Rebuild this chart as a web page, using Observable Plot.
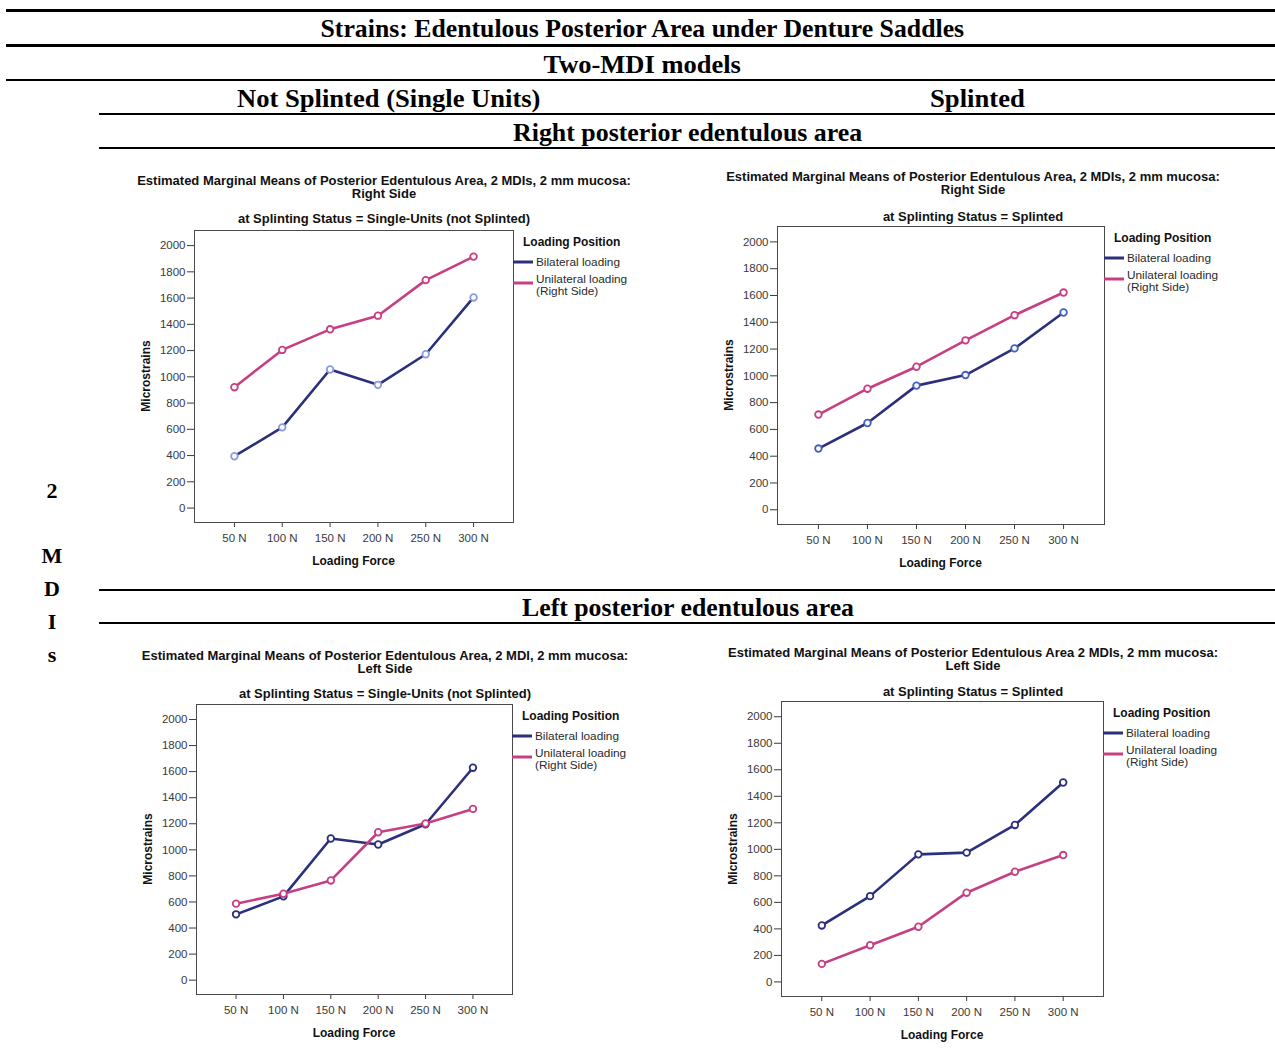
<!DOCTYPE html>
<html>
<head>
<meta charset="utf-8">
<script src="https://cdn.jsdelivr.net/npm/d3@7"></script>
<script src="https://cdn.jsdelivr.net/npm/@observablehq/plot@0.6"></script>
<style>
  html, body { margin: 0; padding: 0; background: #fff; }
  #page { position: relative; width: 1275px; height: 1057px; overflow: hidden; background: #fff; }
  .rule { position: absolute; background: #000; }
  .head { position: absolute; white-space: nowrap; line-height: 1;
          font-family: "Liberation Serif", "DejaVu Serif", serif; font-weight: bold; font-size: 25px; color: #000; }
  .side { position: absolute; transform: translate(-50%, -50%);
          font-family: "Liberation Serif", serif; font-weight: bold; font-size: 22px; color: #000; }
  .ctext { position: absolute; transform: translate(-50%, -50%); white-space: nowrap;
           font-family: "Liberation Sans", Arial, sans-serif; color: #111; }
  .ltext { position: absolute; transform: translate(0, -50%); white-space: nowrap;
           font-family: "Liberation Sans", Arial, sans-serif; color: #2a2a2a; }
  .swatch { position: absolute; height: 3px; width: 20px; transform: translate(0, -50%); }
  .plotbox { position: absolute; }
</style>
</head>
<body>
<div id="page"></div>
<script>
// ---- data ----
const forces = ["50 N", "100 N", "150 N", "200 N", "250 N", "300 N"];
const positions = ["Bilateral loading", "Unilateral loading (Right Side)"];
const yTicks = [0, 200, 400, 600, 800, 1000, 1200, 1400, 1600, 1800, 2000];

// Right posterior edentulous area
const rightSingleBilateral  = [395, 615, 1056, 939, 1172, 1605];
const rightSingleUnilateral = [921, 1205, 1362, 1466, 1737, 1916];
const rightSplintBilateral  = [457, 648, 927, 1006, 1205, 1473];
const rightSplintUnilateral = [711, 904, 1068, 1265, 1453, 1622];
// Left posterior edentulous area
const leftSingleBilateral   = [505, 643, 1087, 1041, 1196, 1630];
const leftSingleUnilateral  = [587, 663, 765, 1135, 1202, 1314];
const leftSplintBilateral   = [426, 647, 962, 975, 1184, 1504];
const leftSplintUnilateral  = [136, 277, 416, 673, 831, 957];

// ---- styling ----
const lineColors = ["#2c2f7c", "#c73f82"];

const page = document.getElementById("page");

function el(cls, css, text) {
  const d = document.createElement("div");
  d.className = cls;
  Object.assign(d.style, css);
  if (text != null) d.textContent = text;
  page.appendChild(d);
  return d;
}

// heading centred at (cx, cy), stretched horizontally to span the given width
function heading(text, cx, cy, span) {
  const d = el("head", {left: "0px", top: "0px"}, text);
  const w = d.offsetWidth, h = d.offsetHeight;
  const s = span / w;
  d.style.left = (cx - w / 2) + "px";
  d.style.top = (cy - h / 2) + "px";
  d.style.transform = `scaleX(${s})`;
  d.style.transformOrigin = "50% 50%";
}

// ---- table rules and headings ----
const rules = [
  [6, 9, 1275, 3], [6, 44, 1275, 3], [6, 79, 1275, 2],
  [99, 113, 1176, 2], [99, 147, 1176, 2], [99, 589, 1176, 2], [99, 622, 1176, 2]
];
rules.forEach(([x, y, w, h]) => el("rule", {left: x + "px", top: y + "px", width: w + "px", height: h + "px"}));

heading("Strains: Edentulous Posterior Area under Denture Saddles", 642, 28, 644);
heading("Two-MDI models", 641.5, 64, 197);
heading("Not Splinted (Single Units)", 388.5, 98, 303);
heading("Splinted", 977.5, 98, 95);
heading("Right posterior edentulous area", 687.5, 132, 349);
heading("Left posterior edentulous area", 688, 607, 332);

[["2", 491], ["M", 556], ["D", 589], ["I", 622], ["s", 655]].forEach(([t, y]) =>
  el("side", {left: "52px", top: y + "px"}, t));

// ---- panels ----
const panels = [
  {
    title: ["Estimated Marginal Means of Posterior Edentulous Area, 2 MDIs, 2 mm mucosa:", "Right Side"],
    subtitle: "at Splinting Status = Single-Units (not Splinted)",
    series: [rightSingleBilateral, rightSingleUnilateral],
    markers: ["#8a9be0", "#c73f82"],
    frame: [194, 230, 513, 522], titleX: 384, titleY: 180, subY: 218
  },
  {
    title: ["Estimated Marginal Means of Posterior Edentulous Area, 2 MDIs, 2 mm mucosa:", "Right Side"],
    subtitle: "at Splinting Status = Splinted",
    series: [rightSplintBilateral, rightSplintUnilateral],
    markers: ["#4060c4", "#c73f82"],
    frame: [777, 226, 1104, 524], titleX: 973, titleY: 176, subY: 216
  },
  {
    title: ["Estimated Marginal Means of Posterior Edentulous Area, 2 MDI, 2 mm mucosa:", "Left Side"],
    subtitle: "at Splinting Status = Single-Units (not Splinted)",
    series: [leftSingleBilateral, leftSingleUnilateral],
    markers: ["#2c2f7c", "#c73f82"],
    frame: [196, 704, 512, 994], titleX: 385, titleY: 655, subY: 693
  },
  {
    title: ["Estimated Marginal Means of Posterior Edentulous Area 2 MDIs, 2 mm mucosa:", "Left Side"],
    subtitle: "at Splinting Status = Splinted",
    series: [leftSplintBilateral, leftSplintUnilateral],
    markers: ["#2c2f7c", "#c73f82"],
    frame: [781, 701, 1103, 996], titleX: 973, titleY: 652, subY: 691
  }
];

const mL = 42, mR = 2, mT = 2, mB = 28;

panels.forEach(p => {
  const [x0, y0, x1, y1] = p.frame;
  const rows = [];
  p.series.forEach((vals, i) => vals.forEach((v, j) =>
    rows.push({force: forces[j], value: v, position: positions[i]})));

  const chart = Plot.plot({
    width: (x1 - x0) + mL + mR,
    height: (y1 - y0) + mT + mB,
    marginLeft: mL, marginRight: mR, marginTop: mT, marginBottom: mB,
    style: {fontFamily: '"Liberation Sans", Arial, sans-serif', fontSize: "11.5px", color: "#3a3a3a",
            background: "transparent", overflow: "visible"},
    x: {type: "point", domain: forces, padding: 0.835, round: false, label: null},
    y: {domain: [-110, 2115], label: null},
    color: {domain: positions, range: lineColors},
    marks: [
      Plot.axisY({ticks: yTicks, tickSize: 7, tickPadding: 2, tickFormat: d => String(d), label: null}),
      Plot.axisX({tickSize: 5, tickPadding: 6, label: null}),
      Plot.frame({stroke: "#4a4a4a", strokeWidth: 1}),
      Plot.line(rows, {x: "force", y: "value", z: "position", stroke: "position", strokeWidth: 2.6}),
      Plot.dot(rows, {x: "force", y: "value", r: 3.3, fill: "white", strokeWidth: 1.8,
                      stroke: d => p.markers[positions.indexOf(d.position)]})
    ]
  });
  const box = el("plotbox", {left: (x0 - mL) + "px", top: (y0 - mT) + "px"});
  box.appendChild(chart);

  // chart titles
  el("ctext", {left: p.titleX + "px", top: p.titleY + "px", fontSize: "13px", fontWeight: "bold"}, p.title[0]);
  el("ctext", {left: p.titleX + "px", top: (p.titleY + 13) + "px", fontSize: "13px", fontWeight: "bold"}, p.title[1]);
  el("ctext", {left: p.titleX + "px", top: p.subY + "px", fontSize: "13px", fontWeight: "bold"}, p.subtitle);

  // axis titles
  el("ctext", {left: ((x0 + x1) / 2) + "px", top: (y1 + 38.5) + "px", fontSize: "12px", fontWeight: "bold"}, "Loading Force");
  el("ctext", {left: (x0 - 48.5) + "px", top: ((y0 + y1) / 2) + "px", fontSize: "12px", fontWeight: "bold",
               transform: "translate(-50%, -50%) rotate(-90deg)"}, "Microstrains");

  // legend
  el("ltext", {left: (x1 + 10) + "px", top: (y0 + 12) + "px", fontSize: "12px", fontWeight: "bold", color: "#111"}, "Loading Position");
  el("swatch", {left: x1 + "px", top: (y0 + 32) + "px", background: lineColors[0]});
  el("swatch", {left: x1 + "px", top: (y0 + 53) + "px", background: lineColors[1]});
  el("ltext", {left: (x1 + 23) + "px", top: (y0 + 32) + "px", fontSize: "11.8px"}, "Bilateral loading");
  el("ltext", {left: (x1 + 23) + "px", top: (y0 + 48.5) + "px", fontSize: "11.8px"}, "Unilateral loading");
  el("ltext", {left: (x1 + 23) + "px", top: (y0 + 60.5) + "px", fontSize: "11.8px"}, "(Right Side)");
});
</script>
</body>
</html>
